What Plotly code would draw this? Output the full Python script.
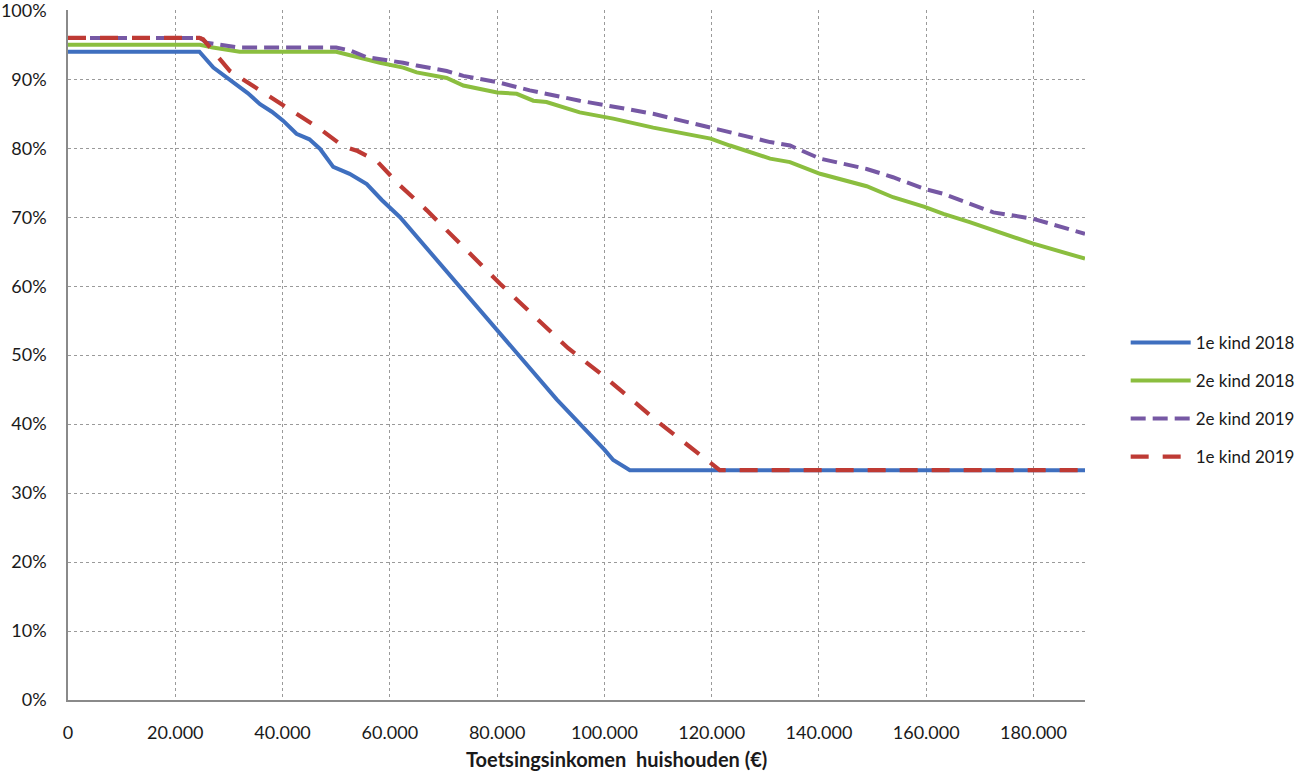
import plotly.graph_objects as go

# ---- data ----
x_1e_2018 = [0, 24500, 27100, 30800, 33500, 35800, 38000, 40100, 42600, 45000, 47000, 49450,
             52500, 55700, 58500, 61900, 70000, 80000, 91100, 100000, 101650, 104750, 189600]
y_1e_2018 = [94.0, 94.0, 91.7, 89.6, 88.0, 86.4, 85.3, 84.0, 82.1, 81.3, 79.9, 77.3,
             76.3, 74.8, 72.5, 70.0, 62.7, 53.6, 43.6, 36.3, 34.8, 33.33, 33.33]

x_2e_2018 = [0, 24600, 27000, 30000, 32000, 50000, 54000, 58150, 62500, 65000, 70600, 73700,
             80000, 83650, 86750, 89200, 95400, 101650, 109100, 119800, 123400, 130900, 134600,
             140200, 148900, 153800, 159700, 163200, 168100, 179800, 189600]
y_2e_2018 = [95.0, 95.0, 94.6, 94.2, 94.0, 94.0, 93.2, 92.4, 91.7, 91.0, 90.2, 89.1,
             88.1, 87.9, 86.9, 86.7, 85.2, 84.3, 83.0, 81.4, 80.4, 78.5, 78.0,
             76.3, 74.5, 72.9, 71.5, 70.5, 69.3, 66.2, 64.0]

x_2e_2019 = [0, 24600, 25850, 30200, 32000, 50000, 52560, 55700, 58150, 60650, 62500, 65000,
             70600, 73700, 80000, 86100, 95400, 104150, 109100, 119800, 126500, 130900, 134600,
             140200, 148900, 153800, 159700, 163200, 172500, 179800, 189600]
y_2e_2019 = [96.0, 96.0, 95.3, 94.9, 94.6, 94.6, 94.2, 93.2, 92.9, 92.7, 92.4, 92.0,
             91.2, 90.5, 89.6, 88.4, 86.9, 85.7, 85.0, 83.0, 81.8, 80.9, 80.4,
             78.5, 77.0, 75.8, 74.1, 73.4, 70.7, 69.8, 67.6]

x_1e_2019 = [0, 24500, 25200, 30200, 35800, 41400, 47000, 51300, 54000, 57500, 61900, 66900,
             80500, 93250, 100000, 110350, 121500, 189600]
y_1e_2019 = [96.0, 96.0, 95.8, 91.2, 88.4, 85.6, 82.8, 80.3, 79.6, 78.2, 74.6, 71.0,
             60.4, 51.0, 46.9, 40.1, 33.33, 33.33]

x_tickvals = [0, 20000, 40000, 60000, 80000, 100000, 120000, 140000, 160000, 180000]
x_ticktext = ["0", "20.000", "40.000", "60.000", "80.000", "100.000", "120.000",
              "140.000", "160.000", "180.000"]
y_tickvals = [0, 10, 20, 30, 40, 50, 60, 70, 80, 90, 100]
y_ticktext = ["0%", "10%", "20%", "30%", "40%", "50%", "60%", "70%", "80%", "90%", "100%"]
x_title = "Toetsingsinkomen  huishouden (€)"

series = [
    ("1e kind 2018", x_1e_2018, y_1e_2018, "#3F6FBF", "solid", 4),
    ("2e kind 2018", x_2e_2018, y_2e_2018, "#8BBE3F", "solid", 4),
    ("2e kind 2019", x_2e_2019, y_2e_2019, "#7658A4", "15px,7px", 4),
    ("1e kind 2019", x_1e_2019, y_1e_2019, "#BE3A34", "18px,14px", 4.2),
]

FONT = "Lato"
fig = go.Figure()
for i, (name, xs, ys, col, dash, w) in enumerate(series):
    fig.add_trace(go.Scatter(x=xs, y=ys, mode="lines", name=name, legendgroup=str(i),
                             line=dict(color=col, width=w, dash=dash)))

fig.update_layout(
    width=1299, height=773,
    margin=dict(l=68, r=214, t=10, b=73, autoexpand=False),
    paper_bgcolor="white", plot_bgcolor="white",
    font=dict(family=FONT, size=18, color="#1a1a1a"),
    showlegend=True,
    legend=dict(x=1.04, xanchor="left", y=0.435, yanchor="middle",
                font=dict(family=FONT, size=17, color="#1a1a1a"),
                itemwidth=60, tracegroupgap=13, bgcolor="rgba(0,0,0,0)"),
    annotations=[dict(text="<b>" + x_title + "</b>", xref="paper", yref="paper",
                      x=0.539, y=-0.085, xanchor="center", yanchor="middle",
                      showarrow=False, font=dict(family=FONT, size=20, color="#1a1a1a"))],
)
fig.update_xaxes(range=[0, 189600], tickvals=x_tickvals, ticktext=x_ticktext,
                 showgrid=True, gridcolor="#9a9a9a", griddash="dot", gridwidth=1,
                 showline=True, linecolor="#8a8a8a", linewidth=1.5, zeroline=False,
                 ticks="", ticklabelstandoff=16, automargin=False, ticklabeloverflow="allow")
fig.update_yaxes(range=[0, 100.05], tickvals=y_tickvals, ticktext=y_ticktext,
                 showgrid=True, gridcolor="#9a9a9a", griddash="dot", gridwidth=1,
                 showline=True, linecolor="#8a8a8a", linewidth=1.5, zeroline=False,
                 ticks="", ticklabelstandoff=16, automargin=False, ticklabeloverflow="allow")

fig.write_html("out.html", config={"displayModeBar": False},
               post_script="document.body.style.margin='0';document.body.style.overflow='hidden';")
